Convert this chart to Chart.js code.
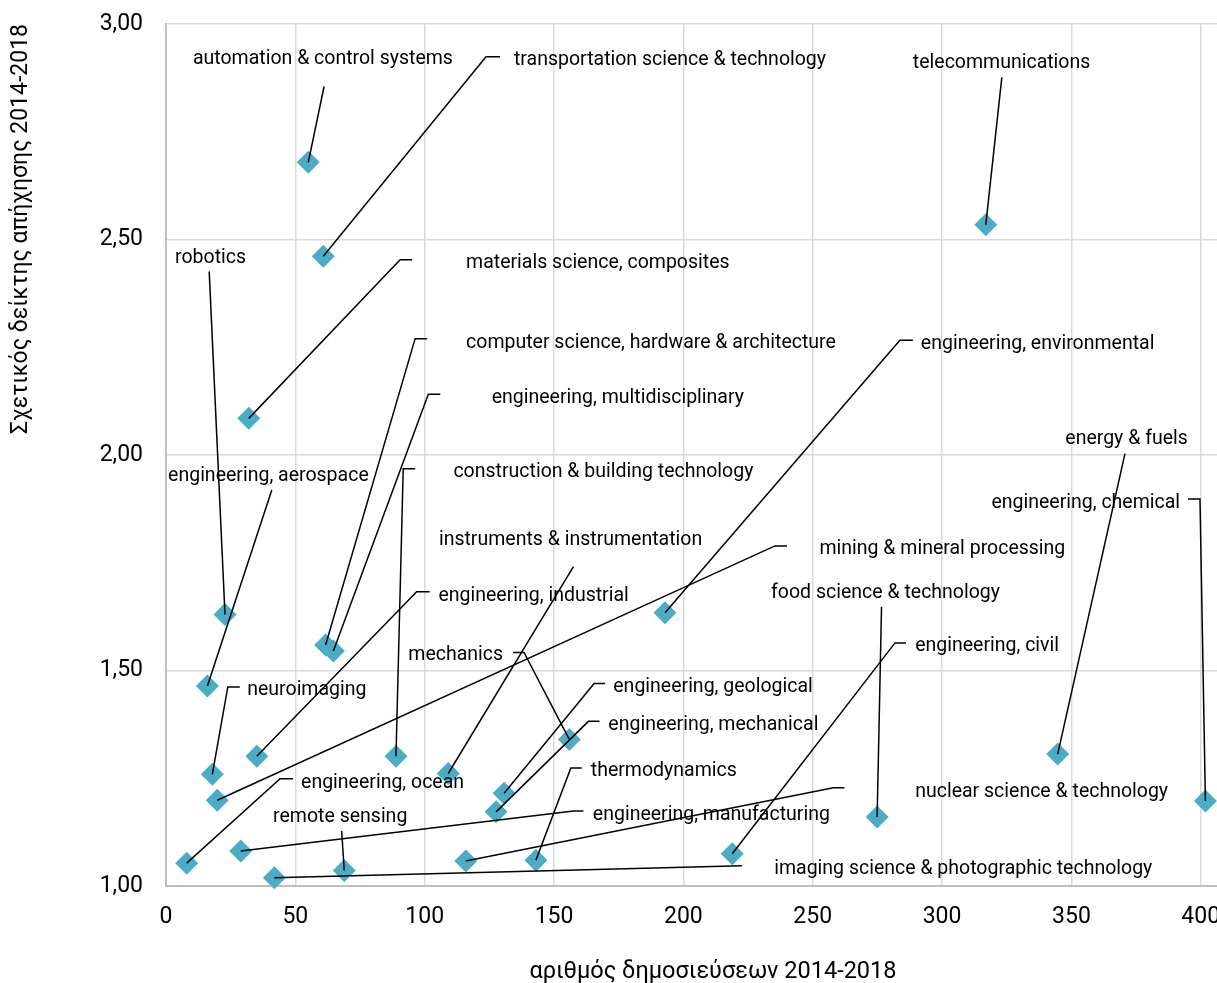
<!DOCTYPE html>
<html><head><meta charset="utf-8">
<script src="https://cdn.jsdelivr.net/npm/chart.js@4.4.1/dist/chart.umd.min.js"></script>
<style>
html,body{margin:0;padding:0;overflow:hidden;background:#fff;width:1217px;height:983px}
#wrap{position:absolute;left:0;top:0;width:1290px;height:983px}
</style></head><body>
<div id="wrap"><canvas id="c" width="1290" height="983"></canvas></div>
<script>
// ---- data ----
const categories = [
  'automation & control systems',
  'transportation science & technology',
  'telecommunications',
  'robotics',
  'materials science, composites',
  'computer science, hardware & architecture',
  'engineering, multidisciplinary',
  'construction & building technology',
  'engineering, aerospace',
  'instruments & instrumentation',
  'engineering, industrial',
  'mining & mineral processing',
  'engineering, environmental',
  'energy & fuels',
  'engineering, chemical',
  'food science & technology',
  'engineering, civil',
  'mechanics',
  'neuroimaging',
  'engineering, geological',
  'engineering, mechanical',
  'thermodynamics',
  'engineering, ocean',
  'engineering, manufacturing',
  'remote sensing',
  'nuclear science & technology',
  'imaging science & photographic technology'
];
const publications = [55.0, 60.8, 316.9, 22.8, 32.0, 61.7, 64.7, 88.9, 16.0, 109.1, 35.1, 19.8, 192.9, 344.7, 401.8, 274.9, 218.9, 155.9, 17.9, 130.7, 127.6, 143.0, 8.0, 28.9, 68.9, 115.9, 41.9];
const relativeIndex = [2.679, 2.461, 2.534, 1.630, 2.085, 1.559, 1.545, 1.301, 1.464, 1.261, 1.301, 1.199, 1.634, 1.306, 1.197, 1.160, 1.075, 1.340, 1.259, 1.215, 1.172, 1.060, 1.053, 1.081, 1.036, 1.058, 1.019];
const xTickLabels = ['0', '50', '100', '150', '200', '250', '300', '350', '400'];
const yTickLabels = ['1,00', '1,50', '2,00', '2,50', '3,00'];
const xTitle = 'αριθμός δημοσιεύσεων 2014-2018';
const yTitle = 'Σχετικός δείκτης απήχησης 2014-2018';

// ---- label layout (in axis units) ----
const labelX = [10.4, 134.5, 323.0, 3.5, 116.0, 116.0, 125.9, 111.1, 0.8, 105.5, 105.3, 252.6, 291.8, 395.0, 392.0, 233.9, 289.6, 130.3, 31.4, 172.9, 171.0, 164.2, 52.2, 165.0, 41.4, 289.6, 235.1];
const labelY = [2.921, 2.920, 2.912, 2.461, 2.448, 2.263, 2.136, 1.964, 1.954, 1.807, 1.677, 1.784, 2.260, 2.041, 1.892, 1.683, 1.561, 1.538, 1.457, 1.464, 1.377, 1.269, 1.242, 1.169, 1.163, 1.221, 1.042];
const labelAlign = ['left','left','center','left','left','left','left','left','left','left','left','left','left','right','right','left','left','right','left','left','left','left','left','left','left','left','left'];
const leaderX = [61.1, 123.7, 323.1, 16.7, 90.5, 96.3, 101.4, 91.7, 40.9, 157.5, 96.9, 235.4, 283.7, 370.7, 399.7, 276.6, 281.8, 138.4, 23.9, 165.5, 163.3, 156.5, 44.1, 157.5, 67.9, 258.0, 222.6];
const leaderY = [2.855, 2.924, 2.876, 2.426, 2.453, 2.270, 2.141, 1.968, 1.919, 1.741, 1.683, 1.789, 2.266, 2.003, 1.898, 1.648, 1.564, 1.542, 1.462, 1.470, 1.382, 1.274, 1.249, 1.174, 1.128, 1.228, 1.047];
const leaderTail = [0, 14, 0, 0, 12, 12, 12, 12, 0, 0, 13, 12, 13, 0, -12, 0, 11, -11, 12, 11, 11, 11, 13, 10, 0, 11, 0];

const FONT = 'Roboto';

const leaderPlugin = {
  id: 'leaders',
  afterDatasetsDraw(chart) {
    const ctx = chart.ctx, xs = chart.scales.x, ys = chart.scales.y;
    const pts = chart.getDatasetMeta(0).data;
    ctx.save();
    ctx.strokeStyle = '#000';
    ctx.lineWidth = 1.5;
    categories.forEach((name, i) => {
      const p = pts[i];
      const ax = xs.getPixelForValue(leaderX[i]);
      const ay = ys.getPixelForValue(leaderY[i]);
      ctx.beginPath();
      ctx.moveTo(p.x, p.y);
      ctx.lineTo(ax, ay);
      if (leaderTail[i]) ctx.lineTo(ax + leaderTail[i], ay);
      ctx.stroke();
    });
    ctx.font = '19.5px ' + FONT;
    ctx.fillStyle = '#000';
    ctx.textBaseline = 'middle';
    categories.forEach((name, i) => {
      ctx.textAlign = labelAlign[i];
      ctx.fillText(name, xs.getPixelForValue(labelX[i]), ys.getPixelForValue(labelY[i]) + 1.5);
    });
    ctx.restore();
  }
};

new Chart(document.getElementById('c'), {
  type: 'scatter',
  data: {
    datasets: [{
      data: publications.map((v, i) => ({x: v, y: relativeIndex[i]})),
      pointStyle: 'rectRot',
      pointRadius: 11.5,
      pointHoverRadius: 11.5,
      backgroundColor: '#4bacc6',
      borderWidth: 0,
      clip: false
    }]
  },
  options: {
    responsive: false,
    animation: false,
    devicePixelRatio: 1,
    layout: {padding: {top: 24, right: 30, bottom: 0, left: 0}},
    plugins: {legend: {display: false}, tooltip: {enabled: false}},
    scales: {
      x: {
        type: 'linear',
        min: 0,
        max: 422.9,
        afterFit: s => { s.height = 97; s.paddingLeft = 0; s.paddingRight = 0; },
        ticks: {
          stepSize: 50,
          includeBounds: false,
          autoSkip: false,
          maxRotation: 0,
          padding: 17,
          color: '#000',
          font: {family: FONT, size: 23},
          callback: (v, i) => xTickLabels[i]
        },
        grid: {color: '#d9d9d9', lineWidth: 1.5, drawTicks: false},
        border: {color: '#bfbfbf', width: 2},
        title: {display: true, text: xTitle, color: '#000', font: {family: FONT, size: 23.5}, padding: {top: 0, bottom: -3}}
      },
      y: {
        type: 'linear',
        min: 1,
        max: 3,
        afterFit: s => { s.width = 166; s.paddingTop = 0; s.paddingBottom = 0; },
        ticks: {
          stepSize: 0.5,
          padding: 23,
          color: '#000',
          font: {family: FONT, size: 23},
          callback: (v, i) => yTickLabels[i]
        },
        grid: {color: '#d9d9d9', lineWidth: 1.5, drawTicks: false},
        border: {color: '#bfbfbf', width: 2},
        title: {display: true, text: yTitle, align: 'end', color: '#000', font: {family: FONT, size: 23}, padding: {top: 7, bottom: 0}}
      }
    }
  },
  plugins: [leaderPlugin]
});
</script>
</body></html>
